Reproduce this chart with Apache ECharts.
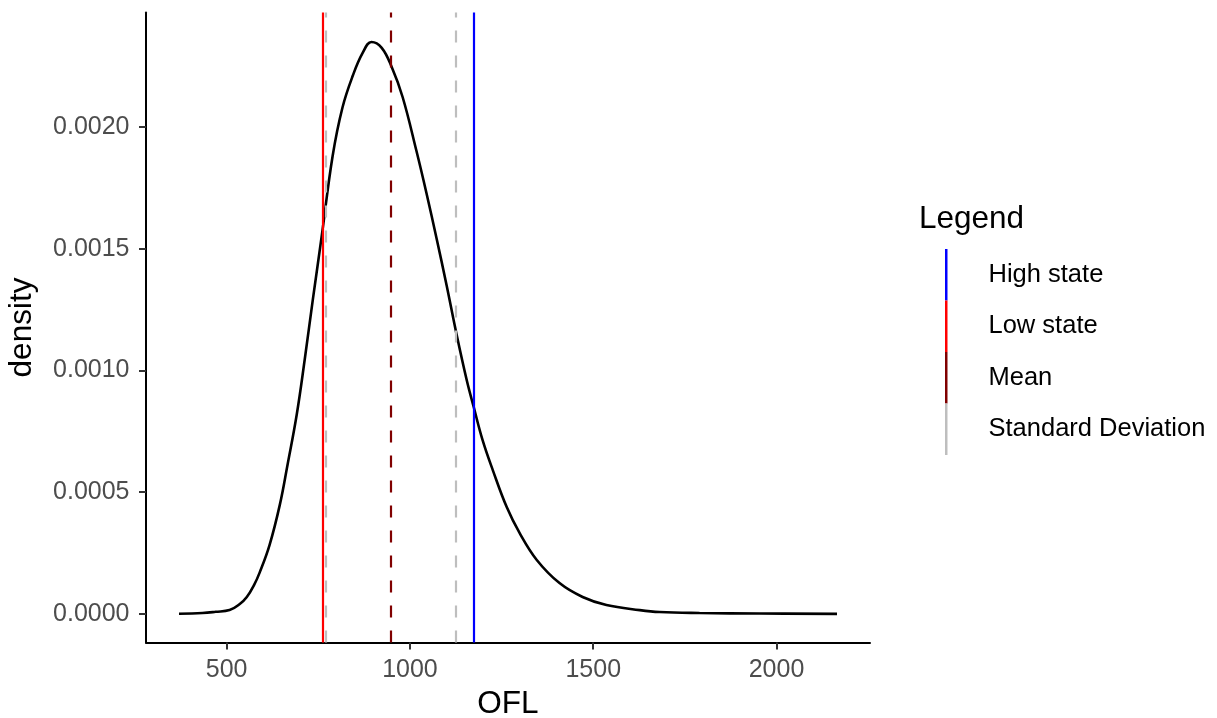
<!DOCTYPE html>
<html>
<head>
<meta charset="utf-8">
<script src="https://cdn.jsdelivr.net/npm/echarts@6/dist/echarts.min.js"></script>
<style>
  html, body { margin: 0; padding: 0; background: #fff; }
  #chart { width: 1217px; height: 718px; }
</style>
</head>
<body>
<div id="chart"></div>
<script>
// ---- data ----
const oflValues = [370, 434, 470, 508, 535, 555, 575, 590, 617, 645, 666, 691, 713, 735, 759, 789, 816, 844, 871, 895, 923, 950, 980, 1018, 1045, 1073, 1100, 1127, 1155, 1174, 1198, 1226, 1264, 1299, 1346, 1408, 1471, 1536, 1627, 1681, 1790, 1954, 2165];
const densityValues = [0.000001, 0.000004, 0.000009, 0.000016, 0.000040, 0.000070, 0.000120, 0.000170, 0.000283, 0.000448, 0.000612, 0.000817, 0.001045, 0.00129, 0.001548, 0.00188, 0.00208, 0.002210, 0.002304, 0.002349, 0.002325, 0.002247, 0.002123, 0.001900, 0.001729, 0.00154, 0.00135, 0.00115, 0.00096, 0.00085, 0.000715, 0.000591, 0.000439, 0.000333, 0.000222, 0.000127, 0.00007, 0.000037, 0.000016, 0.000008, 0.000004, 0.000002, 0.0000005];

const highState = [1175];
const lowState = [763];
const meanValue = [946.5];
const sdValues = [769, 1125];

const legendNames = ['High state', 'Low state', 'Mean', 'Standard Deviation'];
const xTickValues = [500, 1000, 1500, 2000];
const yTickValues = [0, 0.0005, 0.0010, 0.0015, 0.0020];

// ---- chart ----
const chart = echarts.init(document.getElementById('chart'), null, { renderer: 'canvas' });
const FONT = 'Liberation Sans, Arial, Helvetica, sans-serif';

const densityData = oflValues.map((v, i) => [v, densityValues[i]]);

function vlineSeries(name, values, color, dashed) {
  return {
    name: name,
    type: 'line',
    data: [],
    itemStyle: { color: color },
    lineStyle: { color: color },
    markLine: {
      silent: true,
      symbol: ['none', 'none'],
      label: { show: false },
      animation: false,
      lineStyle: {
        color: color,
        width: 2.2,
        type: dashed ? [12, 13] : 'solid'
      },
      emphasis: { disabled: true },
      data: values.map(v => ({ xAxis: v }))
    },
    z: 3
  };
}

const option = {
  backgroundColor: '#ffffff',
  animation: false,
  title: {
    text: 'Legend',
    left: 919,
    top: 203,
    padding: 0,
    textStyle: { fontFamily: FONT, fontSize: 31.5, fontWeight: 'normal', color: '#000' }
  },
  legend: {
    data: legendNames,
    orient: 'vertical',
    left: 945,
    top: 249,
    padding: 0,
    itemWidth: 2.5,
    itemHeight: 51.5,
    itemGap: 0,
    icon: 'rect',
    selectedMode: false,
    textStyle: { fontFamily: FONT, fontSize: 25.5, color: '#000', padding: [0, 0, 0, 36] }
  },
  grid: { left: 146, right: 347, top: 12.5, bottom: 75.5, containLabel: false, outerBoundsMode: 'none' },
  xAxis: {
    type: 'value',
    min: 280,
    max: 2255,
    name: 'OFL',
    nameLocation: 'middle',
    nameGap: 46,
    nameTextStyle: { fontFamily: FONT, fontSize: 31.5, color: '#000' },
    splitLine: { show: false },
    axisLine: { show: true, onZero: false, lineStyle: { color: '#000', width: 2 } },
    axisTick: { show: true, length: 7, lineStyle: { color: '#333', width: 2 }, customValues: xTickValues },
    axisLabel: {
      fontFamily: FONT, fontSize: 25, color: '#4D4D4D', margin: 15,
      customValues: xTickValues,
      formatter: v => String(v)
    }
  },
  yAxis: {
    type: 'value',
    min: -0.000117,
    max: 0.00247,
    name: 'density',
    nameLocation: 'middle',
    nameRotate: 90,
    nameGap: 108,
    nameTextStyle: { fontFamily: FONT, fontSize: 31.5, color: '#000' },
    splitLine: { show: false },
    axisLine: { show: true, onZero: false, lineStyle: { color: '#000', width: 2 } },
    axisTick: { show: true, length: 7, lineStyle: { color: '#333', width: 2 }, customValues: yTickValues },
    axisLabel: {
      fontFamily: FONT, fontSize: 25, color: '#4D4D4D', margin: 16.5,
      customValues: yTickValues,
      formatter: v => v.toFixed(4)
    }
  },
  series: [
    {
      name: 'density',
      type: 'line',
      data: densityData,
      smooth: 0.4,
      showSymbol: false,
      symbol: 'none',
      lineStyle: { color: '#000', width: 2.6 },
      itemStyle: { color: '#000' },
      z: 2
    },
    vlineSeries('High state', highState, '#0000FF', false),
    vlineSeries('Low state', lowState, '#FF0000', false),
    vlineSeries('Mean', meanValue, '#800000', true),
    vlineSeries('Standard Deviation', sdValues, '#BEBEBE', true)
  ]
};

chart.setOption(option);
</script>
</body>
</html>
